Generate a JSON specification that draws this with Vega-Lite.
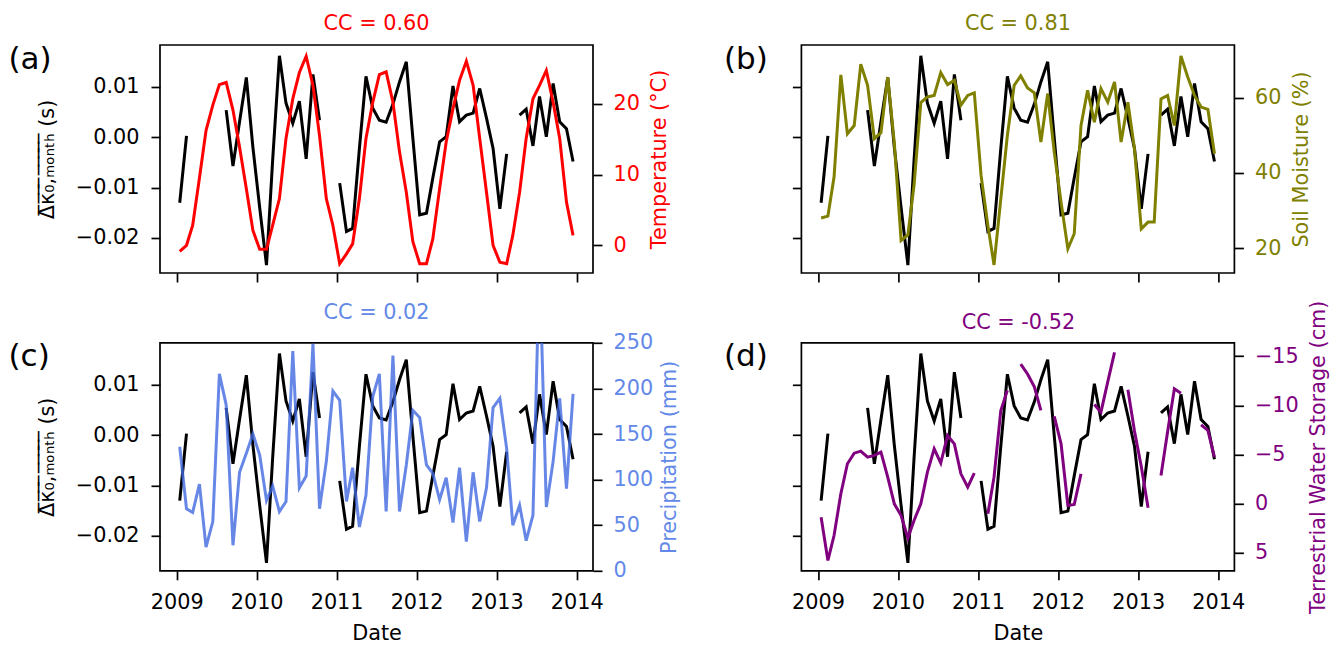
{
  "$schema": "https://vega.github.io/schema/vega-lite/v6.json",
  "autosize": {"type": "pad"},
  "padding": {"left": 7, "top": 11, "right": 5, "bottom": 5},
  "background": "white",
  "config": {
    "font": "DejaVu Sans",
    "view": {"stroke": "black", "strokeWidth": 1.7},
    "axis": {"grid": false, "domain": false, "tickColor": "black", "tickSize": 9, "tickWidth": 1.7, "labelFontSize": 20.8, "labelColor": "black", "titleFontSize": 20.8, "titleFontWeight": "normal", "titleColor": "black", "labelFlush": false, "labelOverlap": false},
    "title": {"fontSize": 20.8, "fontWeight": "normal", "frame": "group", "baseline": "alphabetic", "offset": 8.4}
  },
  "datasets": {
    "m": [
      {"date":"2009-01-15","k":-0.0130,"t":-0.85,"sm":28.0,"p":136,"tws":1.36},
      {"date":"2009-02-15","k":0.0003,"t":0.0,"sm":28.5,"p":68,"tws":5.76},
      {"date":"2009-03-15","k":null,"t":2.8,"sm":38.9,"p":64,"tws":3.22},
      {"date":"2009-04-15","k":null,"t":9.5,"sm":66.1,"p":95,"tws":-1.02},
      {"date":"2009-05-15","k":null,"t":16.2,"sm":50.4,"p":26,"tws":-4.07},
      {"date":"2009-06-15","k":null,"t":19.8,"sm":52.6,"p":54,"tws":-5.15},
      {"date":"2009-07-15","k":null,"t":22.7,"sm":68.9,"p":216,"tws":-5.36},
      {"date":"2009-08-15","k":0.0054,"t":23.0,"sm":63.3,"p":182,"tws":-4.75},
      {"date":"2009-09-15","k":-0.0057,"t":19.1,"sm":49.1,"p":28,"tws":-4.92},
      {"date":"2009-10-15","k":0.0031,"t":13.9,"sm":50.7,"p":108,"tws":-5.25},
      {"date":"2009-11-15","k":0.0119,"t":8.0,"sm":65.5,"p":129,"tws":-2.71},
      {"date":"2009-12-15","k":-0.0020,"t":2.1,"sm":48.0,"p":150,"tws":0.0},
      {"date":"2010-01-15","k":-0.0140,"t":-0.56,"sm":22.0,"p":127,"tws":1.19},
      {"date":"2010-02-15","k":-0.0254,"t":-0.56,"sm":23.5,"p":77,"tws":3.46},
      {"date":"2010-03-15","k":-0.0046,"t":2.8,"sm":36.7,"p":93,"tws":1.69},
      {"date":"2010-04-15","k":0.0162,"t":6.6,"sm":58.7,"p":65,"tws":0.0},
      {"date":"2010-05-15","k":0.0068,"t":15.1,"sm":60.2,"p":76,"tws":-3.22},
      {"date":"2010-06-15","k":0.0028,"t":20.7,"sm":60.6,"p":241,"tws":-5.59},
      {"date":"2010-07-15","k":0.0072,"t":24.4,"sm":66.7,"p":91,"tws":-4.14},
      {"date":"2010-08-15","k":-0.0043,"t":26.7,"sm":63.5,"p":104,"tws":-6.95},
      {"date":"2010-09-15","k":0.0125,"t":22.6,"sm":64.6,"p":249,"tws":-6.1},
      {"date":"2010-10-15","k":0.0034,"t":15.5,"sm":58.0,"p":68,"tws":-3.05},
      {"date":"2010-11-15","k":null,"t":6.6,"sm":60.6,"p":120,"tws":-1.69},
      {"date":"2010-12-15","k":null,"t":2.8,"sm":61.3,"p":197,"tws":-3.12},
      {"date":"2011-01-15","k":-0.0091,"t":-2.6,"sm":39.3,"p":187,"tws":null},
      {"date":"2011-02-15","k":-0.0187,"t":-1.2,"sm":26.0,"p":76,"tws":1.02},
      {"date":"2011-03-15","k":-0.0181,"t":0.2,"sm":15.5,"p":113,"tws":-2.71},
      {"date":"2011-04-15","k":-0.0022,"t":6.6,"sm":33.1,"p":48,"tws":-9.49},
      {"date":"2011-05-15","k":0.0121,"t":15.1,"sm":50.0,"p":83,"tws":-11.53},
      {"date":"2011-06-15","k":0.0058,"t":20.2,"sm":63.3,"p":191,"tws":null},
      {"date":"2011-07-15","k":0.0034,"t":24.1,"sm":65.8,"p":216,"tws":-14.2},
      {"date":"2011-08-15","k":0.0030,"t":24.5,"sm":62.6,"p":65,"tws":-13.2},
      {"date":"2011-09-15","k":0.0066,"t":20.2,"sm":61.3,"p":236,"tws":-11.9},
      {"date":"2011-10-15","k":0.0110,"t":13.2,"sm":48.2,"p":65,"tws":-9.49},
      {"date":"2011-11-15","k":0.0150,"t":7.5,"sm":61.1,"p":116,"tws":null},
      {"date":"2011-12-15","k":-0.0002,"t":0.5,"sm":45.5,"p":176,"tws":-8.88},
      {"date":"2012-01-15","k":-0.0154,"t":-2.6,"sm":32.2,"p":168,"tws":-6.1},
      {"date":"2012-02-15","k":-0.0151,"t":-2.6,"sm":19.8,"p":116,"tws":0.17},
      {"date":"2012-03-15","k":-0.0081,"t":0.9,"sm":23.8,"p":107,"tws":0.07},
      {"date":"2012-04-15","k":-0.0009,"t":8.0,"sm":52.6,"p":78,"tws":-3.05},
      {"date":"2012-05-15","k":0.0001,"t":14.6,"sm":62.0,"p":102,"tws":null},
      {"date":"2012-06-15","k":0.0102,"t":19.3,"sm":53.5,"p":53,"tws":-10.1},
      {"date":"2012-07-15","k":0.0031,"t":23.3,"sm":62.4,"p":113,"tws":-9.32},
      {"date":"2012-08-15","k":0.0044,"t":26.0,"sm":58.8,"p":32,"tws":-12.4},
      {"date":"2012-09-15","k":0.0048,"t":22.6,"sm":64.2,"p":108,"tws":-15.4},
      {"date":"2012-10-15","k":0.0097,"t":15.1,"sm":48.2,"p":54,"tws":null},
      {"date":"2012-11-15","k":0.0038,"t":7.5,"sm":58.8,"p":91,"tws":-11.6},
      {"date":"2012-12-15","k":-0.0022,"t":0.0,"sm":46.4,"p":179,"tws":-7.4},
      {"date":"2013-01-15","k":-0.0142,"t":-2.4,"sm":25.1,"p":189,"tws":-3.8},
      {"date":"2013-02-15","k":-0.0033,"t":-2.6,"sm":26.9,"p":134,"tws":0.41},
      {"date":"2013-03-15","k":null,"t":1.4,"sm":26.9,"p":50,"tws":null},
      {"date":"2013-04-15","k":0.0044,"t":7.5,"sm":59.7,"p":72,"tws":-2.88},
      {"date":"2013-05-15","k":0.0056,"t":15.1,"sm":60.6,"p":33,"tws":-7.3},
      {"date":"2013-06-15","k":-0.0017,"t":20.7,"sm":52.6,"p":61,"tws":-11.7},
      {"date":"2013-07-15","k":0.0081,"t":22.6,"sm":71.1,"p":340,"tws":-11.25},
      {"date":"2013-08-15","k":0.0001,"t":24.7,"sm":65.5,"p":70,"tws":null},
      {"date":"2013-09-15","k":0.0107,"t":20.2,"sm":60.6,"p":120,"tws":null},
      {"date":"2013-10-15","k":0.0031,"t":15.1,"sm":57.5,"p":189,"tws":-8.03},
      {"date":"2013-11-15","k":0.0017,"t":6.1,"sm":56.9,"p":90,"tws":-7.46},
      {"date":"2013-12-15","k":-0.0048,"t":1.4,"sm":45.1,"p":194,"tws":-4.75}
    ]
  },
  "data": {"name": "m"},
  "columns": 2,
  "spacing": {"row": 69.8, "column": 208.4},
  "bounds": "flush",
  "concat": [
    {
      "width": 433, "height": 228,
      "title": {"text": "CC = 0.60", "color": "#ff0000"},
      "layer": [
        {
          "mark": {"type": "line", "color": "black", "strokeWidth": 3, "clip": true, "invalid": "break-paths-filter-domains"},
          "encoding": {
            "x": {"field": "date", "type": "temporal", "scale": {"type": "utc", "domain": [{"year": 2008, "month": 10, "date": 17, "utc": true}, {"year": 2014, "month": 3, "date": 16, "utc": true}]},
                  "axis": {"orient": "bottom", "values": [{"year": 2009, "utc": true}, {"year": 2010, "utc": true}, {"year": 2011, "utc": true}, {"year": 2012, "utc": true}, {"year": 2013, "utc": true}, {"year": 2014, "utc": true}], "labels": false, "title": null}},
            "y": {"field": "k", "type": "quantitative", "scale": {"domain": [-0.02696, 0.01834], "nice": false, "zero": false},
                  "axis": {"orient": "left", "values": [-0.02, -0.01, 0, 0.01], "format": ".2f", "labelPadding": 12, "title": "\u0394\u0305\u03ba\u0305\u2080\u0305,\u0305\u2098\u0305\u2092\u0305\u2099\u0305\u209c\u0305\u2095\u0305 (s)", "titleX": -113, "titleY": 114, "titleAngle": 270, "titleAlign": "center", "titleBaseline": "middle"}}
          }
        },
        {
          "mark": {"type": "line", "color": "#ff0000", "strokeWidth": 3, "clip": true},
          "encoding": {
            "x": {"field": "date", "type": "temporal", "scale": {"type": "utc", "domain": [{"year": 2008, "month": 10, "date": 17, "utc": true}, {"year": 2014, "month": 3, "date": 16, "utc": true}]},
                  "axis": {"orient": "top", "domain": false, "ticks": false, "labels": false, "title": "(a)", "titleX": -152, "titleY": 23, "titleAlign": "left", "titleAngle": 0, "titleBaseline": "alphabetic", "titleFontSize": 31}},
            "y": {"field": "t", "type": "quantitative", "scale": {"domain": [-3.91, 28.29], "nice": false, "zero": false},
                  "axis": {"orient": "right", "values": [0, 10, 20], "labelColor": "#ff0000", "labelPadding": 11, "title": "Temperature (°C)", "titleColor": "#ff0000", "titleX": 66, "titleY": 114, "titleAngle": 270, "titleAlign": "center", "titleBaseline": "middle"}}
          }
        }
      ],
      "resolve": {"scale": {"x": "independent", "y": "independent"}}
    },
    {
      "width": 433, "height": 228,
      "title": {"text": "CC = 0.81", "color": "#808000"},
      "layer": [
        {
          "mark": {"type": "line", "color": "black", "strokeWidth": 3, "clip": true, "invalid": "break-paths-filter-domains"},
          "encoding": {
            "x": {"field": "date", "type": "temporal", "scale": {"type": "utc", "domain": [{"year": 2008, "month": 10, "date": 17, "utc": true}, {"year": 2014, "month": 3, "date": 16, "utc": true}]},
                  "axis": {"orient": "bottom", "values": [{"year": 2009, "utc": true}, {"year": 2010, "utc": true}, {"year": 2011, "utc": true}, {"year": 2012, "utc": true}, {"year": 2013, "utc": true}, {"year": 2014, "utc": true}], "labels": false, "title": null}},
            "y": {"field": "k", "type": "quantitative", "scale": {"domain": [-0.02696, 0.01834], "nice": false, "zero": false},
                  "axis": {"orient": "left", "values": [-0.02, -0.01, 0, 0.01], "labels": false, "title": null}}
          }
        },
        {
          "mark": {"type": "line", "color": "#808000", "strokeWidth": 3, "clip": true},
          "encoding": {
            "x": {"field": "date", "type": "temporal", "scale": {"type": "utc", "domain": [{"year": 2008, "month": 10, "date": 17, "utc": true}, {"year": 2014, "month": 3, "date": 16, "utc": true}]},
                  "axis": {"orient": "top", "domain": false, "ticks": false, "labels": false, "title": "(b)", "titleX": -78, "titleY": 23, "titleAlign": "left", "titleAngle": 0, "titleBaseline": "alphabetic", "titleFontSize": 31}},
            "y": {"field": "sm", "type": "quantitative", "scale": {"domain": [13.35, 74.03], "nice": false, "zero": false},
                  "axis": {"orient": "right", "values": [20, 40, 60], "labelColor": "#808000", "labelPadding": 11, "title": "Soil Moisture (%)", "titleColor": "#808000", "titleX": 67, "titleY": 114, "titleAngle": 270, "titleAlign": "center", "titleBaseline": "middle"}}
          }
        }
      ],
      "resolve": {"scale": {"x": "independent", "y": "independent"}}
    },
    {
      "width": 433, "height": 228,
      "title": {"text": "CC = 0.02", "color": "#6389e8"},
      "layer": [
        {
          "mark": {"type": "line", "color": "black", "strokeWidth": 3, "clip": true, "invalid": "break-paths-filter-domains"},
          "encoding": {
            "x": {"field": "date", "type": "temporal", "scale": {"type": "utc", "domain": [{"year": 2008, "month": 10, "date": 17, "utc": true}, {"year": 2014, "month": 3, "date": 16, "utc": true}]},
                  "axis": {"orient": "bottom", "values": [{"year": 2009, "utc": true}, {"year": 2010, "utc": true}, {"year": 2011, "utc": true}, {"year": 2012, "utc": true}, {"year": 2013, "utc": true}, {"year": 2014, "utc": true}], "format": "%Y", "labelPadding": 12.2, "title": "Date", "titleY": 69, "titleBaseline": "alphabetic"}},
            "y": {"field": "k", "type": "quantitative", "scale": {"domain": [-0.02696, 0.01834], "nice": false, "zero": false},
                  "axis": {"orient": "left", "values": [-0.02, -0.01, 0, 0.01], "format": ".2f", "labelPadding": 12, "title": "\u0394\u0305\u03ba\u0305\u2080\u0305,\u0305\u2098\u0305\u2092\u0305\u2099\u0305\u209c\u0305\u2095\u0305 (s)", "titleX": -113, "titleY": 114, "titleAngle": 270, "titleAlign": "center", "titleBaseline": "middle"}}
          }
        },
        {
          "mark": {"type": "line", "color": "#4169e1", "opacity": 0.8, "strokeWidth": 3, "clip": true},
          "encoding": {
            "x": {"field": "date", "type": "temporal", "scale": {"type": "utc", "domain": [{"year": 2008, "month": 10, "date": 17, "utc": true}, {"year": 2014, "month": 3, "date": 16, "utc": true}]},
                  "axis": {"orient": "top", "domain": false, "ticks": false, "labels": false, "title": "(c)", "titleX": -152, "titleY": 23, "titleAlign": "left", "titleAngle": 0, "titleBaseline": "alphabetic", "titleFontSize": 31}},
            "y": {"field": "p", "type": "quantitative", "scale": {"domain": [0, 250], "nice": false, "zero": false},
                  "axis": {"orient": "right", "values": [0, 50, 100, 150, 200, 250], "labelColor": "#6389e8", "labelPadding": 11, "title": "Precipitation (mm)", "titleColor": "#6389e8", "titleX": 76, "titleY": 114, "titleAngle": 270, "titleAlign": "center", "titleBaseline": "middle"}}
          }
        }
      ],
      "resolve": {"scale": {"x": "independent", "y": "independent"}}
    },
    {
      "width": 433, "height": 228,
      "layer": [
        {
          "mark": {"type": "line", "color": "black", "strokeWidth": 3, "clip": true, "invalid": "break-paths-filter-domains"},
          "encoding": {
            "x": {"field": "date", "type": "temporal", "scale": {"type": "utc", "domain": [{"year": 2008, "month": 10, "date": 17, "utc": true}, {"year": 2014, "month": 3, "date": 16, "utc": true}]},
                  "axis": {"orient": "bottom", "values": [{"year": 2009, "utc": true}, {"year": 2010, "utc": true}, {"year": 2011, "utc": true}, {"year": 2012, "utc": true}, {"year": 2013, "utc": true}, {"year": 2014, "utc": true}], "format": "%Y", "labelPadding": 12.2, "title": "Date", "titleY": 69, "titleBaseline": "alphabetic"}},
            "y": {"field": "k", "type": "quantitative", "scale": {"domain": [-0.02696, 0.01834], "nice": false, "zero": false},
                  "axis": {"orient": "left", "values": [-0.02, -0.01, 0, 0.01], "labels": false, "title": "(d)", "titleX": -78, "titleY": 23, "titleAlign": "left", "titleAngle": 0, "titleBaseline": "alphabetic", "titleFontSize": 31}}
          }
        },
        {
          "mark": {"type": "line", "color": "#800080", "strokeWidth": 3, "clip": true, "invalid": "break-paths-filter-domains"},
          "encoding": {
            "x": {"field": "date", "type": "temporal", "scale": {"type": "utc", "domain": [{"year": 2008, "month": 10, "date": 17, "utc": true}, {"year": 2014, "month": 3, "date": 16, "utc": true}]},
                  "axis": {"orient": "top", "domain": false, "ticks": false, "labels": false, "title": "CC = -0.52", "titleColor": "#800080", "titleX": 216.5, "titleY": -14.7, "titleAlign": "center", "titleAngle": 0, "titleBaseline": "alphabetic", "titleFontSize": 20.8}},
            "y": {"field": "tws", "type": "quantitative", "scale": {"domain": [-16.37, 6.81], "reverse": true, "nice": false, "zero": false},
                  "axis": {"orient": "right", "values": [-15, -10, -5, 0, 5], "labelColor": "#800080", "labelPadding": 11, "title": "Terrestrial Water Storage (cm)", "titleColor": "#800080", "titleX": 84, "titleY": 114, "titleAngle": 270, "titleAlign": "center", "titleBaseline": "middle"}}
          }
        }
      ],
      "resolve": {"scale": {"x": "independent", "y": "independent"}}
    }
  ]
}
